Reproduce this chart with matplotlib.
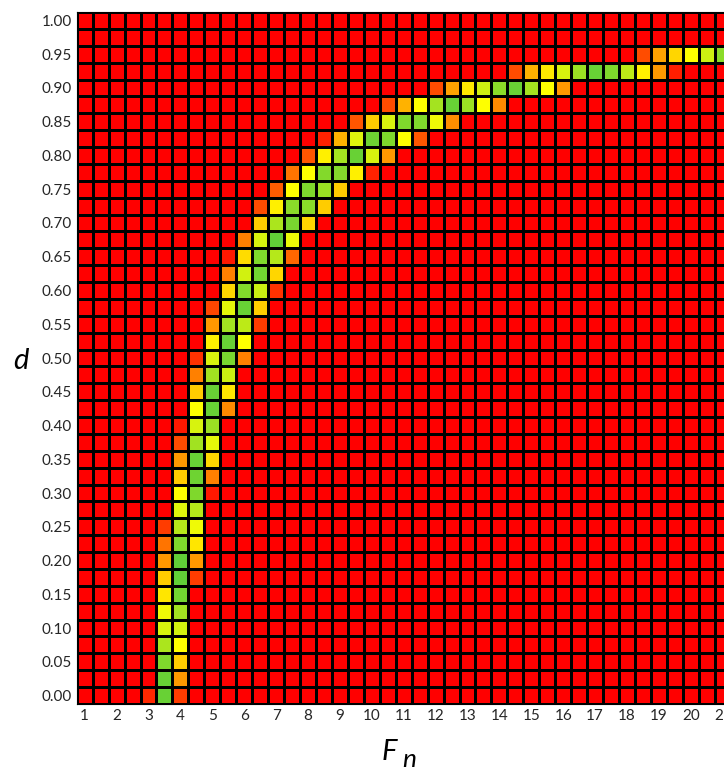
import numpy as np
import matplotlib
matplotlib.use("Agg")
import matplotlib.pyplot as plt
from matplotlib.colors import LinearSegmentedColormap

# Grid axes: F_n from 1 to 21 in steps of 0.5, d from 0 to 1 in steps of 0.025
fn_values = np.arange(1.0, 21.0 + 1e-9, 0.5)
d_values = np.arange(0.0, 1.0 + 1e-9, 0.025)

x_tick_labels = [str(i) for i in range(1, 22)]
y_tick_labels = ["%.2f" % v for v in np.arange(0.0, 1.0 + 1e-9, 0.05)]

# Non-zero part of the score map: for each d, the first F_n of the band and
# the scores of consecutive cells from there (every other cell scores 0).
band_d = [0.950, 0.925, 0.900, 0.875, 0.850, 0.825, 0.800, 0.775, 0.750,
          0.725, 0.700, 0.675, 0.650, 0.625, 0.600, 0.575, 0.550, 0.525,
          0.500, 0.475, 0.450, 0.425, 0.400, 0.375, 0.350, 0.325, 0.300,
          0.275, 0.250, 0.225, 0.200, 0.175, 0.150, 0.125, 0.100, 0.075,
          0.050, 0.025, 0.000]
band_start_fn = [18.5, 14.5, 12.0, 10.5, 9.5, 8.5, 8.0, 7.5, 7.0,
                 6.5, 6.5, 6.0, 5.5, 5.5, 5.5, 5.0, 5.0, 5.0,
                 4.5, 4.5, 4.5, 4.5, 4.0, 4.0, 4.0, 4.0, 4.0,
                 4.0, 3.5, 3.5, 3.5, 3.5, 3.5, 3.5, 3.5, 3.5,
                 3.5, 3.5, 3.0]
band_scores = [
    [0.15, 0.32, 0.42, 0.50, 0.65, 0.85],
    [0.15, 0.35, 0.46, 0.62, 0.80, 0.95, 0.88, 0.70, 0.47, 0.30, 0.06],
    [0.15, 0.32, 0.46, 0.65, 0.85, 0.95, 0.77, 0.50, 0.30],
    [0.15, 0.35, 0.50, 0.77, 0.95, 0.80, 0.50, 0.27],
    [0.17, 0.40, 0.62, 0.88, 0.88, 0.55, 0.28],
    [0.07, 0.35, 0.60, 0.93, 0.88, 0.50, 0.17],
    [0.17, 0.47, 0.77, 0.95, 0.62, 0.30],
    [0.23, 0.50, 0.87, 0.87, 0.47, 0.07],
    [0.18, 0.50, 0.88, 0.80, 0.40],
    [0.15, 0.47, 0.85, 0.85, 0.40],
    [0.40, 0.75, 0.90, 0.42],
    [0.25, 0.62, 0.97, 0.56],
    [0.05, 0.43, 0.88, 0.72, 0.20],
    [0.25, 0.64, 0.92, 0.42],
    [0.42, 0.87, 0.66, 0.10],
    [0.14, 0.58, 0.95, 0.40],
    [0.30, 0.78, 0.70, 0.12],
    [0.47, 0.95, 0.50],
    [0.10, 0.62, 0.90, 0.25],
    [0.25, 0.78, 0.66],
    [0.40, 0.95, 0.45],
    [0.50, 0.95, 0.27],
    [0.05, 0.62, 0.80],
    [0.15, 0.78, 0.58],
    [0.30, 0.95, 0.42],
    [0.40, 0.93, 0.25],
    [0.50, 0.88, 0.05],
    [0.60, 0.72],
    [0.12, 0.72, 0.55],
    [0.23, 0.88, 0.45],
    [0.30, 0.97, 0.30],
    [0.40, 0.97, 0.12],
    [0.45, 0.92],
    [0.55, 0.78],
    [0.62, 0.63],
    [0.75, 0.50],
    [0.88, 0.40],
    [0.95, 0.30],
    [0.08, 0.95, 0.12],
]

# Assemble the full score matrix (rows = d, columns = F_n)
scores = np.zeros((len(d_values), len(fn_values)))
for d, f0, vals in zip(band_d, band_start_fn, band_scores):
    r = int(round(d / 0.025))
    c0 = int(round((f0 - 1.0) / 0.5))
    scores[r, c0:c0 + len(vals)] = vals

# Red -> yellow -> green colour scale
cmap = LinearSegmentedColormap.from_list(
    "ryg", [(0.0, "#FF0000"), (0.5, "#FFFF00"), (1.0, "#58CC3A")])

W, H = 724, 767
fig = plt.figure(figsize=(W / 100, H / 100), dpi=100)
ax_left, ax_top, ax_bottom = 76.7, 12.0, 704.0
cell_w = 15.95
ax = fig.add_axes([ax_left / W, (H - ax_bottom) / H,
                   len(fn_values) * cell_w / W, (ax_bottom - ax_top) / H])

x_edges = np.concatenate([fn_values - 0.25, [fn_values[-1] + 0.25]])
y_edges = np.concatenate([d_values - 0.0125, [d_values[-1] + 0.0125]])
ax.pcolormesh(x_edges, y_edges, scores, cmap=cmap, vmin=0, vmax=1,
              edgecolors="black", linewidth=0.75)
ax.set_xlim(x_edges[0], x_edges[-1])
ax.set_ylim(y_edges[0], y_edges[-1])

label_font = "Lato"
ax.set_xticks(np.arange(1, 22))
ax.set_xticklabels(x_tick_labels)
ax.set_yticks(np.arange(0.0, 1.0 + 1e-9, 0.05))
ax.set_yticklabels(y_tick_labels)
ax.tick_params(length=0, labelsize=11, labelcolor="#262626", pad=3.5)
for lab in ax.get_xticklabels() + ax.get_yticklabels():
    lab.set_fontfamily(label_font)
for s in ax.spines.values():
    s.set_color("black")
    s.set_linewidth(0.8)

# Axis titles
fig.text(20.5 / W, (H - 369) / H, "d", fontsize=21, style="italic",
         family=label_font, ha="center", va="baseline", color="black")
fig.text(382 / W, (H - 760) / H, "F", fontsize=21, style="italic",
         family=label_font, ha="left", va="baseline", color="black")
fig.text(402 / W, (H - 767) / H, "n", fontsize=19, style="italic",
         family=label_font, ha="left", va="baseline", color="black")

fig.savefig("out.png", dpi=100)
